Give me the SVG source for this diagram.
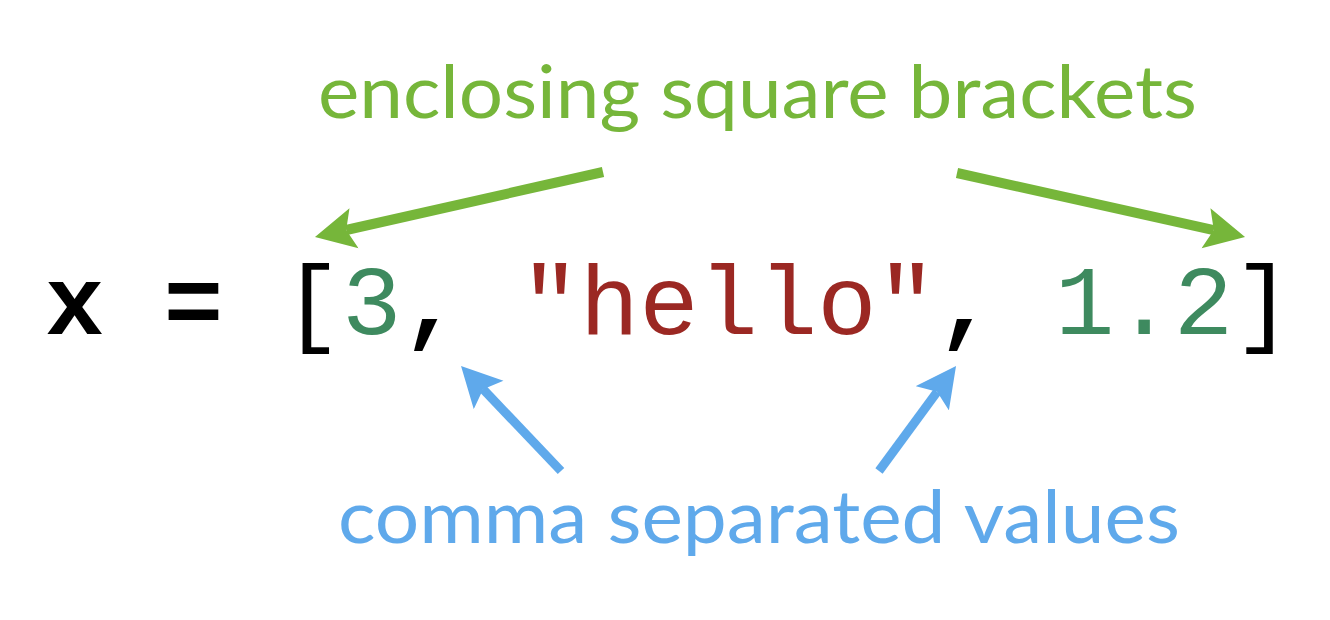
<svg xmlns="http://www.w3.org/2000/svg" width="1330" height="620" viewBox="0 0 1330 620">
  <style>
    .lbl { font-family: Lato, "Open Sans", "Liberation Sans", sans-serif; font-size: 74px; }
    .green { fill: #76b63a; }
    .blue { fill: #5fa9eb; }
    .code { font-family: "Liberation Mono", "DejaVu Sans Mono", monospace; font-size: 99px; }
    .k { fill: #000000; font-weight: bold; }
    .br { fill: #000000; }
    .num { fill: #3e8a5f; }
    .str { fill: #9b2823; }
    .gline { stroke: #76b63a; stroke-width: 10; fill: none; marker-end: url(#gHead); }
    .bline { stroke: #5fa9eb; stroke-width: 9; fill: none; marker-end: url(#bHead); }
  </style>
  <defs>
    <marker id="gHead" markerUnits="userSpaceOnUse" viewBox="0 -21 42 42" refX="8" refY="0" markerWidth="42" markerHeight="42" orient="auto">
      <path d="M0,-20.5 L40,0 L0,20.5 L8,0 Z" fill="#76b63a"/>
    </marker>
    <marker id="bHead" markerUnits="userSpaceOnUse" viewBox="0 -21 42 42" refX="8" refY="0" markerWidth="42" markerHeight="42" orient="auto">
      <path d="M0,-20.5 L40,0 L0,20.5 L8,0 Z" fill="#5fa9eb"/>
    </marker>
  </defs>
  <rect width="1330" height="620" fill="#ffffff"/>
  <g id="label-brackets">
    <text class="lbl green" x="318" y="118" textLength="879" lengthAdjust="spacingAndGlyphs">enclosing square brackets</text>
  </g>
  <g id="code">
    <text class="code" x="45" y="334" xml:space="preserve"><tspan class="k">x = </tspan><tspan class="br">[</tspan><tspan class="num">3</tspan><tspan class="k">, </tspan><tspan class="str">"hello"</tspan><tspan class="k">, </tspan><tspan class="num">1.2</tspan><tspan class="br">]</tspan></text>
  </g>
  <g id="label-values">
    <text class="lbl blue" x="338" y="543" textLength="842" lengthAdjust="spacingAndGlyphs">comma separated values</text>
  </g>
  <g id="connectors">
    <line class="gline" x1="603" y1="172" x2="346.2" y2="230"/>
    <line class="gline" x1="957" y1="173" x2="1213.8" y2="230.1"/>
    <line class="bline" x1="561" y1="471" x2="483.1" y2="389.2"/>
    <line class="bline" x1="879" y1="471" x2="937.1" y2="391.8"/>
  </g>
</svg>
